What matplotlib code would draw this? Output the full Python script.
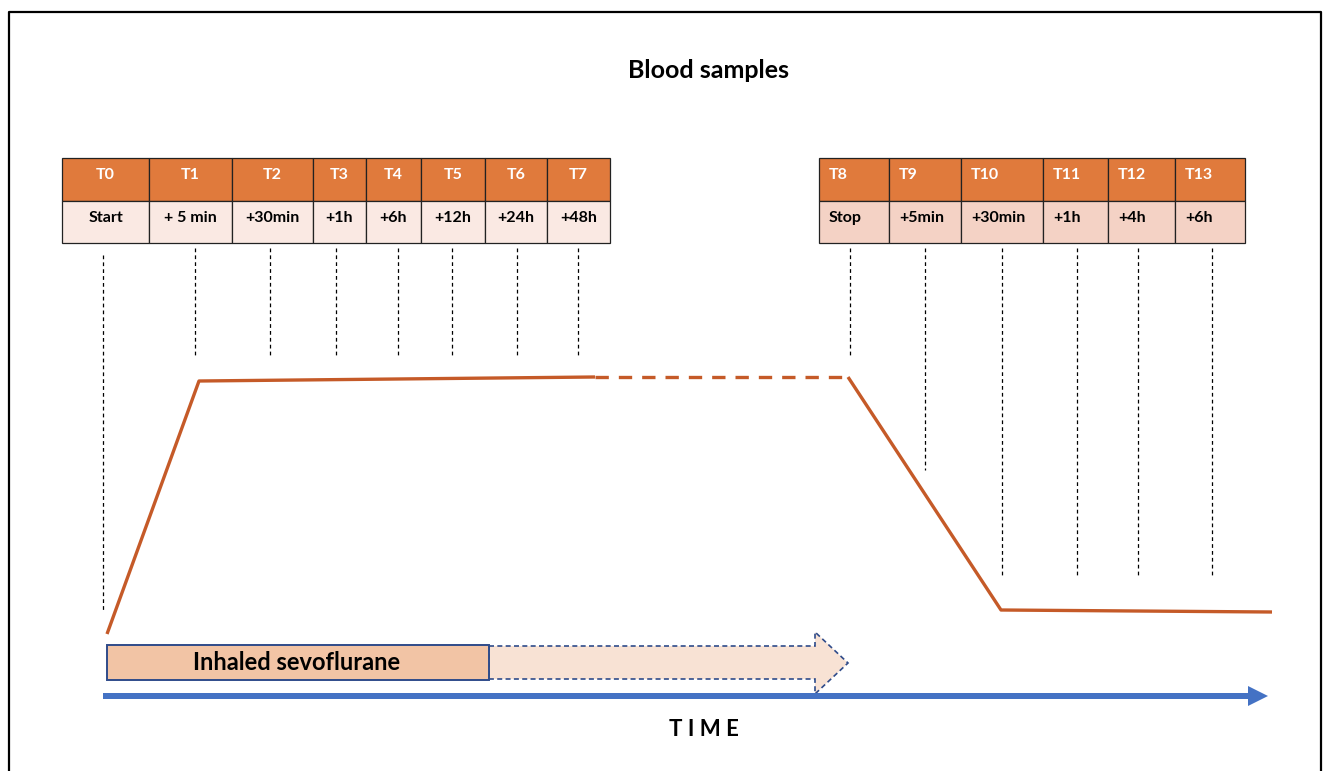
import matplotlib.pyplot as plt
from matplotlib.patches import Rectangle, Polygon, FancyArrow

plt.rcParams['font.family'] = ['Lato', 'DejaVu Sans']

# sampling tables
left_codes = ['T0', 'T1', 'T2', 'T3', 'T4', 'T5', 'T6', 'T7']
left_times = ['Start', '+ 5 min', '+30min', '+1h', '+6h', '+12h', '+24h', '+48h']
left_edges = [62, 149, 232, 313, 366, 421, 485, 547, 610]

right_codes = ['T8', 'T9', 'T10', 'T11', 'T12', 'T13']
right_times = ['Stop', '+5min', '+30min', '+1h', '+4h', '+6h']
right_edges = [819, 889, 961, 1043, 1108, 1175, 1245]

# dashed guide lines: x position and lower end
guide_x = [103, 195, 270, 336, 398, 452, 517, 578, 850, 925, 1002, 1077, 1138, 1212]
guide_top = [255, 248, 248, 248, 248, 248, 248, 248, 248, 248, 248, 248, 248, 248]
guide_bottom = [610, 355, 355, 355, 355, 355, 355, 355, 355, 470, 578, 578, 578, 578]

# concentration curve
curve_solid1_x = [107, 199, 595]
curve_solid1_y = [634, 381, 377]
curve_dash_x = [595, 848]
curve_dash_y = [377, 377]
curve_solid2_x = [848, 1001, 1272]
curve_solid2_y = [377, 610, 612]

orange = '#E07A3C'
curve_col = '#C55A28'
blue = '#4472C4'
navy = '#2F4B8A'

fig = plt.figure(figsize=(13.3, 7.71), dpi=100)
ax = fig.add_axes([0, 0, 1, 1])
ax.set_xlim(0, 1330)
ax.set_ylim(771, 0)
ax.axis('off')

# frame
ax.plot([9, 9, 1321, 1321], [771, 12, 12, 771], color='black', lw=1.6, solid_capstyle='projecting')

ax.text(708, 70, 'Blood samples', ha='center', va='center', fontsize=18, fontweight='bold')


def draw_table(edges, codes, times, row_col, align):
    for i in range(len(codes)):
        x0, x1 = edges[i], edges[i + 1]
        ax.add_patch(Rectangle((x0, 158), x1 - x0, 43, facecolor=orange, edgecolor='#222222', lw=0.9))
        ax.add_patch(Rectangle((x0, 201), x1 - x0, 42, facecolor=row_col, edgecolor='#222222', lw=0.9))
        if align == 'center':
            tx, ha = (x0 + x1) / 2, 'center'
        else:
            tx, ha = x0 + 10, 'left'
        ax.text(tx, 175, codes[i], ha=ha, va='center', color='white', fontsize=11.5, fontweight='bold')
        ax.text(tx, 218, times[i], ha=ha, va='center', color='black', fontsize=11.5, fontweight='bold')


draw_table(left_edges, left_codes, left_times, '#FAE9E3', 'center')
draw_table(right_edges, right_codes, right_times, '#F4D2C5', 'left')

for x, y0, y1 in zip(guide_x, guide_top, guide_bottom):
    ax.plot([x, x], [y0, y1], color='black', lw=0.9, ls=(0, (3, 2.5)))

ax.plot(curve_solid1_x, curve_solid1_y, color=curve_col, lw=2.4, solid_capstyle='butt')
ax.plot(curve_dash_x, curve_dash_y, color=curve_col, lw=2.4, ls=(0, (4, 3)))
ax.plot(curve_solid2_x, curve_solid2_y, color=curve_col, lw=2.4, solid_capstyle='butt')

# dashed continuation arrow
ax.add_patch(Polygon([(489, 646), (815, 646), (815, 632), (848, 663), (815, 694), (815, 679), (489, 679)],
                     closed=True, facecolor='#F8E2D4', edgecolor=navy, lw=1.2, ls=(0, (3, 2))))
# exposure box
ax.add_patch(Rectangle((107, 645), 382, 35, facecolor='#F2C4A5', edgecolor=navy, lw=1.4))
ax.text(297, 663, 'Inhaled sevoflurane', ha='center', va='center', fontsize=17, fontweight='bold')

# time axis
ax.add_patch(FancyArrow(103, 696, 1165, 0, width=6, head_width=20, head_length=20,
                        length_includes_head=True, color=blue, lw=0))
ax.text(704, 730, 'T I M E', ha='center', va='center', fontsize=16, fontweight='bold')

fig.savefig('out.png', dpi=100)
